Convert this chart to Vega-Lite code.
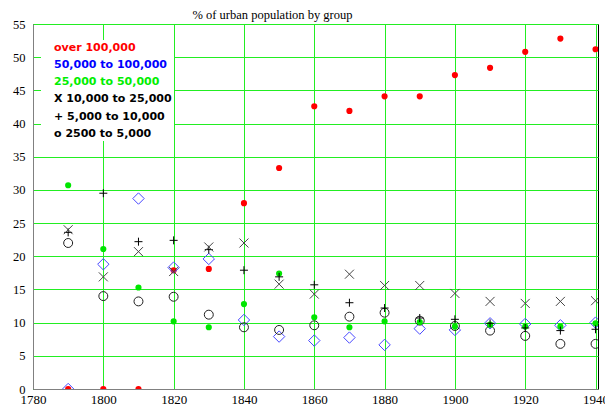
{
  "$schema": "https://vega.github.io/schema/vega-lite/v6.json",
  "width": 565,
  "height": 365,
  "autosize": {"type": "none"},
  "padding": {"left": 33, "top": 24, "right": 7, "bottom": 19},
  "background": "white",
  "title": {"text": "% of urban population by group", "font": "Liberation Serif", "fontSize": 12.5, "fontWeight": "normal", "color": "black", "dx": -43, "offset": -3},
  "config": {
    "view": {"stroke": "black", "strokeWidth": 1},
    "axis": {"gridColor": "#22ee22", "gridOpacity": 1, "gridWidth": 1, "domainColor": "#808080", "domainWidth": 1, "ticks": false, "labelColor": "black", "labelFont": "Liberation Serif"}
  },
  "data": {"values": [
    {"year": 1790, "group": "over 100,000", "pct": 0},
    {"year": 1800, "group": "over 100,000", "pct": 0},
    {"year": 1810, "group": "over 100,000", "pct": 0},
    {"year": 1820, "group": "over 100,000", "pct": 17.9},
    {"year": 1830, "group": "over 100,000", "pct": 18.1},
    {"year": 1840, "group": "over 100,000", "pct": 28.0},
    {"year": 1850, "group": "over 100,000", "pct": 33.3},
    {"year": 1860, "group": "over 100,000", "pct": 42.6},
    {"year": 1870, "group": "over 100,000", "pct": 41.9},
    {"year": 1880, "group": "over 100,000", "pct": 44.1},
    {"year": 1890, "group": "over 100,000", "pct": 44.1},
    {"year": 1900, "group": "over 100,000", "pct": 47.3},
    {"year": 1910, "group": "over 100,000", "pct": 48.4},
    {"year": 1920, "group": "over 100,000", "pct": 50.8},
    {"year": 1930, "group": "over 100,000", "pct": 52.8},
    {"year": 1940, "group": "over 100,000", "pct": 51.2},
    {"year": 1790, "group": "50,000 to 100,000", "pct": 0},
    {"year": 1800, "group": "50,000 to 100,000", "pct": 18.8},
    {"year": 1810, "group": "50,000 to 100,000", "pct": 28.7},
    {"year": 1820, "group": "50,000 to 100,000", "pct": 18.3},
    {"year": 1830, "group": "50,000 to 100,000", "pct": 19.6},
    {"year": 1840, "group": "50,000 to 100,000", "pct": 10.4},
    {"year": 1850, "group": "50,000 to 100,000", "pct": 7.9},
    {"year": 1860, "group": "50,000 to 100,000", "pct": 7.3},
    {"year": 1870, "group": "50,000 to 100,000", "pct": 7.75},
    {"year": 1880, "group": "50,000 to 100,000", "pct": 6.65},
    {"year": 1890, "group": "50,000 to 100,000", "pct": 9.1},
    {"year": 1900, "group": "50,000 to 100,000", "pct": 8.9},
    {"year": 1910, "group": "50,000 to 100,000", "pct": 9.9},
    {"year": 1920, "group": "50,000 to 100,000", "pct": 9.8},
    {"year": 1930, "group": "50,000 to 100,000", "pct": 9.6},
    {"year": 1940, "group": "50,000 to 100,000", "pct": 10.0},
    {"year": 1790, "group": "25,000 to 50,000", "pct": 30.7},
    {"year": 1800, "group": "25,000 to 50,000", "pct": 21.1},
    {"year": 1810, "group": "25,000 to 50,000", "pct": 15.3},
    {"year": 1820, "group": "25,000 to 50,000", "pct": 10.2},
    {"year": 1830, "group": "25,000 to 50,000", "pct": 9.3},
    {"year": 1840, "group": "25,000 to 50,000", "pct": 12.8},
    {"year": 1850, "group": "25,000 to 50,000", "pct": 17.4},
    {"year": 1860, "group": "25,000 to 50,000", "pct": 10.8},
    {"year": 1870, "group": "25,000 to 50,000", "pct": 9.3},
    {"year": 1880, "group": "25,000 to 50,000", "pct": 10.2},
    {"year": 1890, "group": "25,000 to 50,000", "pct": 10.1},
    {"year": 1900, "group": "25,000 to 50,000", "pct": 9.4},
    {"year": 1910, "group": "25,000 to 50,000", "pct": 9.7},
    {"year": 1920, "group": "25,000 to 50,000", "pct": 9.4},
    {"year": 1930, "group": "25,000 to 50,000", "pct": 9.4},
    {"year": 1940, "group": "25,000 to 50,000", "pct": 9.9},
    {"year": 1790, "group": "10,000 to 25,000", "pct": 24.0},
    {"year": 1800, "group": "10,000 to 25,000", "pct": 16.9},
    {"year": 1810, "group": "10,000 to 25,000", "pct": 20.7},
    {"year": 1820, "group": "10,000 to 25,000", "pct": 17.7},
    {"year": 1830, "group": "10,000 to 25,000", "pct": 21.4},
    {"year": 1840, "group": "10,000 to 25,000", "pct": 22.0},
    {"year": 1850, "group": "10,000 to 25,000", "pct": 15.8},
    {"year": 1860, "group": "10,000 to 25,000", "pct": 14.3},
    {"year": 1870, "group": "10,000 to 25,000", "pct": 17.3},
    {"year": 1880, "group": "10,000 to 25,000", "pct": 15.6},
    {"year": 1890, "group": "10,000 to 25,000", "pct": 15.6},
    {"year": 1900, "group": "10,000 to 25,000", "pct": 14.4},
    {"year": 1910, "group": "10,000 to 25,000", "pct": 13.2},
    {"year": 1920, "group": "10,000 to 25,000", "pct": 12.9},
    {"year": 1930, "group": "10,000 to 25,000", "pct": 13.2},
    {"year": 1940, "group": "10,000 to 25,000", "pct": 13.3},
    {"year": 1790, "group": "5,000 to 10,000", "pct": 23.6},
    {"year": 1800, "group": "5,000 to 10,000", "pct": 29.5},
    {"year": 1810, "group": "5,000 to 10,000", "pct": 22.2},
    {"year": 1820, "group": "5,000 to 10,000", "pct": 22.4},
    {"year": 1830, "group": "5,000 to 10,000", "pct": 21.0},
    {"year": 1840, "group": "5,000 to 10,000", "pct": 17.9},
    {"year": 1850, "group": "5,000 to 10,000", "pct": 16.9},
    {"year": 1860, "group": "5,000 to 10,000", "pct": 15.7},
    {"year": 1870, "group": "5,000 to 10,000", "pct": 13.0},
    {"year": 1880, "group": "5,000 to 10,000", "pct": 12.2},
    {"year": 1890, "group": "5,000 to 10,000", "pct": 10.7},
    {"year": 1900, "group": "5,000 to 10,000", "pct": 10.5},
    {"year": 1910, "group": "5,000 to 10,000", "pct": 9.9},
    {"year": 1920, "group": "5,000 to 10,000", "pct": 9.2},
    {"year": 1930, "group": "5,000 to 10,000", "pct": 8.8},
    {"year": 1940, "group": "5,000 to 10,000", "pct": 9.0},
    {"year": 1790, "group": "2500 to 5,000", "pct": 22.0},
    {"year": 1800, "group": "2500 to 5,000", "pct": 14.0},
    {"year": 1810, "group": "2500 to 5,000", "pct": 13.2},
    {"year": 1820, "group": "2500 to 5,000", "pct": 13.9},
    {"year": 1830, "group": "2500 to 5,000", "pct": 11.2},
    {"year": 1840, "group": "2500 to 5,000", "pct": 9.3},
    {"year": 1850, "group": "2500 to 5,000", "pct": 8.9},
    {"year": 1860, "group": "2500 to 5,000", "pct": 9.6},
    {"year": 1870, "group": "2500 to 5,000", "pct": 10.9},
    {"year": 1880, "group": "2500 to 5,000", "pct": 11.5},
    {"year": 1890, "group": "2500 to 5,000", "pct": 10.3},
    {"year": 1900, "group": "2500 to 5,000", "pct": 9.5},
    {"year": 1910, "group": "2500 to 5,000", "pct": 8.8},
    {"year": 1920, "group": "2500 to 5,000", "pct": 8.0},
    {"year": 1930, "group": "2500 to 5,000", "pct": 6.8},
    {"year": 1940, "group": "2500 to 5,000", "pct": 6.8}
  ]},
  "encoding": {
    "x": {"field": "year", "type": "quantitative", "scale": {"domain": [1780, 1940.7], "nice": false, "zero": false}, "axis": {"title": null, "values": [1780, 1800, 1820, 1840, 1860, 1880, 1900, 1920, 1940], "format": "d", "labelFont": "Liberation Serif", "labelFontSize": 13, "labelPadding": 4, "labelFlush": false, "labelOverlap": false, "labelBound": false, "labelDx": 3}},
    "y": {"field": "pct", "type": "quantitative", "scale": {"domain": [0, 55], "nice": false}, "axis": {"title": null, "values": [0, 5, 10, 15, 20, 25, 30, 35, 40, 45, 50, 55], "labelFont": "Liberation Serif", "labelFontSize": 12.5, "labelPadding": 8, "labelFlush": false, "labelOverlap": false}},
    "color": {"field": "group", "type": "nominal", "scale": {"domain": ["over 100,000", "50,000 to 100,000", "25,000 to 50,000", "10,000 to 25,000", "5,000 to 10,000", "2500 to 5,000"], "range": ["#ff0000", "#4848ff", "#00e600", "#444444", "#000000", "#202020"]},
      "legend": {"title": null, "orient": "none", "legendX": 8, "legendY": 16, "fillColor": "white", "padding": 2, "symbolSize": 0, "symbolStrokeWidth": 0, "symbolOpacity": 0, "labelOffset": 0, "rowPadding": 5.3, "labelFont": "DejaVu Sans", "labelFontSize": 11, "labelFontWeight": "bold",
        "labelExpr": "datum.label == '10,000 to 25,000' ? 'X 10,000 to 25,000' : datum.label == '5,000 to 10,000' ? '+ 5,000 to 10,000' : datum.label == '2500 to 5,000' ? 'o 2500 to 5,000' : datum.label",
        "encode": {"labels": {"update": {"fill": {"signal": "datum.value == 'over 100,000' ? '#ff0000' : datum.value == '50,000 to 100,000' ? '#0000ff' : datum.value == '25,000 to 50,000' ? '#00ee00' : '#000000'"}}}}}}
  },
  "layer": [
    {"transform": [{"filter": "datum.group == 'over 100,000'"}], "mark": {"type": "point", "shape": "circle", "filled": true, "opacity": 1, "size": 38, "clip": true}},
    {"transform": [{"filter": "datum.group == '50,000 to 100,000'"}], "mark": {"type": "point", "shape": "diamond", "filled": false, "opacity": 1, "size": 130, "strokeWidth": 1, "clip": true}},
    {"transform": [{"filter": "datum.group == '2500 to 5,000'"}], "mark": {"type": "point", "shape": "circle", "filled": false, "opacity": 1, "size": 80, "strokeWidth": 1, "clip": true}},
    {"transform": [{"filter": "datum.group == '25,000 to 50,000'"}], "mark": {"type": "point", "shape": "circle", "filled": true, "opacity": 1, "size": 38, "clip": true}},
    {"transform": [{"filter": "datum.group == '5,000 to 10,000'"}], "mark": {"type": "point", "shape": "M-1,0L1,0M0,-1L0,1", "filled": false, "opacity": 1, "size": 64, "strokeWidth": 1, "clip": true}},
    {"transform": [{"filter": "datum.group == '10,000 to 25,000'"}], "mark": {"type": "point", "shape": "M-1,-1L1,1M-1,1L1,-1", "filled": false, "opacity": 1, "size": 81, "strokeWidth": 1, "clip": true}}
  ]
}
